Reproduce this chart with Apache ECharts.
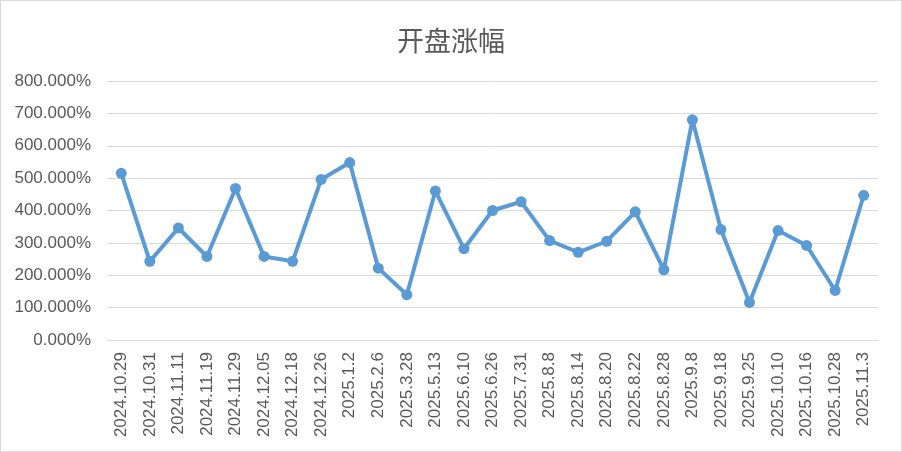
<!DOCTYPE html>
<html>
<head>
<meta charset="utf-8">
<script src="https://cdn.jsdelivr.net/npm/echarts@6/dist/echarts.min.js"></script>
<style>
  html, body { margin: 0; padding: 0; background: #fff; }
  #chart { width: 900px; height: 450px; border: 1px solid #d9d9d9; }
</style>
</head>
<body>
<div id="chart"></div>
<script>
// 日期
const dates = [
  '2024.10.29', '2024.10.31', '2024.11.11', '2024.11.19', '2024.11.29', '2024.12.05',
  '2024.12.18', '2024.12.26', '2025.1.2', '2025.2.6', '2025.3.28', '2025.5.13',
  '2025.6.10', '2025.6.26', '2025.7.31', '2025.8.8', '2025.8.14', '2025.8.20',
  '2025.8.22', '2025.8.28', '2025.9.8', '2025.9.18', '2025.9.25', '2025.10.10',
  '2025.10.16', '2025.10.28', '2025.11.3'
]
// 开盘涨幅 (%)
const openGain = [
  515, 243, 346, 258, 468, 258, 243, 496, 548, 222, 140, 460,
  282, 400, 427, 307, 271, 305, 396, 217, 680, 341, 116, 338,
  292, 153, 447
]
const yTicks = { min: 0, max: 800, interval: 100 }

const myChart = echarts.init(document.getElementById('chart'))

const option = {
  animation: false,
  title: {
    text: '开盘涨幅',
    left: 'center',
    top: 21,
    textStyle: { fontSize: 27, fontWeight: 'normal', color: '#595959', fontFamily: 'Noto Sans CJK SC' }
  },
  grid: { left: 106, right: 23, top: 80, bottom: 111 },
  xAxis: {
    type: 'category',
    data: dates,
    boundaryGap: true,
    axisLine: { lineStyle: { color: '#d9d9d9', width: 1 } },
    axisTick: { show: false },
    axisLabel: {
      rotate: 90,
      interval: 0,
      margin: 12,
      color: '#595959',
      fontSize: 17,
      fontFamily: 'Liberation Sans'
    }
  },
  yAxis: {
    type: 'value',
    min: yTicks.min,
    max: yTicks.max,
    interval: yTicks.interval,
    axisLine: { show: false },
    axisTick: { show: false },
    splitLine: { lineStyle: { color: '#d9d9d9', width: 1 } },
    axisLabel: {
      margin: 16,
      color: '#595959',
      fontSize: 17,
      fontFamily: 'Liberation Sans',
      formatter: v => v.toFixed(3) + '%'
    }
  },
  series: [{
    name: '开盘涨幅',
    type: 'line',
    data: openGain,
    symbol: 'circle',
    symbolSize: 11,
    lineStyle: { color: '#5b9bd5', width: 4 },
    itemStyle: { color: '#5b9bd5' }
  }]
}

myChart.setOption(option)
</script>
</body>
</html>
